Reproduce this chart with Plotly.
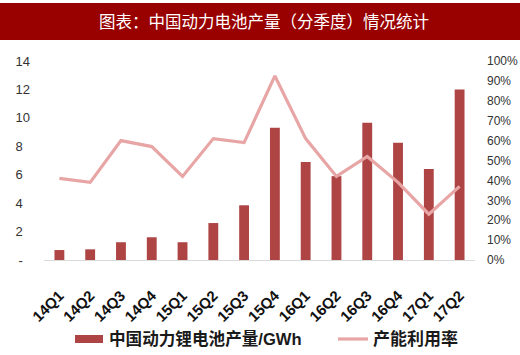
import plotly.graph_objects as go

quarters = ["14Q1", "14Q2", "14Q3", "14Q4", "15Q1", "15Q2", "15Q3", "15Q4",
            "16Q1", "16Q2", "16Q3", "16Q4", "17Q1", "17Q2"]
output_gwh = [0.7, 0.75, 1.25, 1.6, 1.25, 2.6, 3.85, 9.3, 6.9, 5.9, 9.65, 8.25, 6.4, 12.0]
utilization = [0.41, 0.39, 0.60, 0.57, 0.42, 0.61, 0.59, 0.925, 0.61, 0.42, 0.52, 0.39, 0.23, 0.37]

left_ticks = [0, 2, 4, 6, 8, 10, 12, 14]
# figure spaces keep single digits left-aligned like the original accounting format
left_text = ["-\u2007", "2\u2007", "4\u2007", "6\u2007", "8\u2007", "10", "12", "14"]
right_ticks = [0, 0.1, 0.2, 0.3, 0.4, 0.5, 0.6, 0.7, 0.8, 0.9, 1.0]

title_text = "图表：中国动力电池产量（分季度）情况统计"
bar_name = "中国动力锂电池产量/GWh"
line_name = "产能利用率"

BAR_COLOR = "#AE4444"
LINE_COLOR = "#E8A5A5"
FONT = "Liberation Sans, Arial, Noto Sans CJK SC, sans-serif"

fig = go.Figure()
fig.add_trace(go.Bar(x=quarters, y=output_gwh, name=bar_name,
                     marker=dict(color=BAR_COLOR, line=dict(width=0)), yaxis="y"))
fig.add_trace(go.Scatter(x=quarters, y=utilization, name=line_name, mode="lines",
                         line=dict(color=LINE_COLOR, width=3.2), yaxis="y2"))

L, R, T, B = 44, 45, 61, 95
W, H = 520, 355
pw, ph = W - L - R, H - T - B

def px_x(px):
    return (px - L) / pw

def px_y(py):
    return (H - B - py) / ph

# title band
fig.add_shape(type="rect", xref="paper", yref="paper",
              x0=px_x(0), x1=px_x(520), y0=px_y(40), y1=px_y(3),
              fillcolor="#990000", line=dict(width=0), layer="below")
fig.add_annotation(xref="paper", yref="paper", x=px_x(264), y=px_y(21),
                   text=title_text, showarrow=False,
                   font=dict(family="Noto Sans CJK SC", size=16.5, color="white"),
                   xanchor="center", yanchor="middle")

# legend (drawn manually to match wide swatches)
fig.add_shape(type="rect", xref="paper", yref="paper",
              x0=px_x(75), x1=px_x(103), y0=px_y(343), y1=px_y(335),
              fillcolor=BAR_COLOR, line=dict(width=0))
fig.add_annotation(xref="paper", yref="paper", x=px_x(107), y=px_y(339),
                   text=bar_name, showarrow=False, xanchor="left", yanchor="middle",
                   font=dict(family=FONT, size=16.6, color="#1a1a1a", weight="bold"))
fig.add_shape(type="line", xref="paper", yref="paper",
              x0=px_x(338), x1=px_x(368), y0=px_y(339), y1=px_y(339),
              line=dict(color=LINE_COLOR, width=3.2))
fig.add_annotation(xref="paper", yref="paper", x=px_x(371), y=px_y(339),
                   text=line_name, showarrow=False, xanchor="left", yanchor="middle",
                   font=dict(family=FONT, size=17, color="#1a1a1a", weight="bold"))

fig.update_layout(
    width=W, height=H,
    margin=dict(l=L, r=R, t=T, b=B, autoexpand=False),
    paper_bgcolor="white", plot_bgcolor="white",
    bargap=0.68,
    showlegend=False,
    xaxis=dict(tickangle=-45, showline=True, linecolor="#D9D9D9", linewidth=1,
               ticks="", showgrid=False, automargin=False, ticklabelstandoff=20,
               tickfont=dict(family="Liberation Sans, Arial", size=15, color="#111111", weight="bold")),
    yaxis=dict(range=[0, 14], tickvals=left_ticks, ticktext=left_text, showgrid=False,
               zeroline=False, ticks="", showline=False, automargin=False,
               ticklabelstandoff=13,
               tickfont=dict(family=FONT, size=13, color="#333333")),
    yaxis2=dict(range=[0, 1], tickvals=right_ticks, tickformat=".0%", overlaying="y",
                side="right", showgrid=False, zeroline=False, ticks="", showline=False,
                automargin=False, ticklabelstandoff=11,
                tickfont=dict(family=FONT, size=12, color="#333333")),
)

fig.write_html("out.html", config={"displayModeBar": False},
               post_script="document.body.style.margin='0';document.body.style.padding='0';")
